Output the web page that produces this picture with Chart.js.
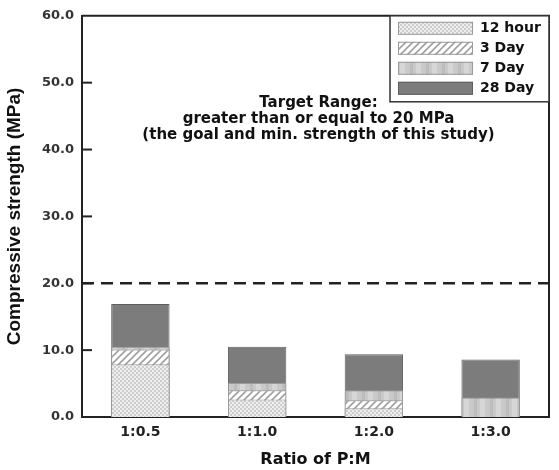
<!DOCTYPE html>
<html>
<head>
<meta charset="utf-8">
<script src="https://cdn.jsdelivr.net/npm/chart.js@4.4.0/dist/chart.umd.min.js"></script>
<style>
  html, body { margin: 0; padding: 0; background: #fff; }
  #wrap { width: 559px; height: 470px; }
</style>
</head>
<body>
<div id="wrap"><canvas id="graf"></canvas></div>
<script>
// categorias e resistencias (MPa)
const ratios = ['1:0.5', '1:1.0', '1:2.0', '1:3.0'];
const ageLabels = ['12 hour', '3 Day', '7 Day', '28 Day'];
const hour12 = [7.9, 2.6, 1.3, 0];
const day3 = [10.1, 4.0, 2.5, 0];
const day7 = [10.5, 5.1, 4.0, 2.9];
const day28 = [16.9, 10.5, 9.4, 8.6];
const yTicks = [0, 10, 20, 30, 40, 50, 60];
const targetValue = 20;
const targetText = ['Target Range:', 'greater than or equal to 20 MPa', '(the goal and min. strength of this study)'];

const canvas = document.getElementById('graf');
const ctx = canvas.getContext('2d');

// texturas das barras
function makePattern(w, h, draw) {
  const c = document.createElement('canvas');
  c.width = w; c.height = h;
  draw(c.getContext('2d'), w, h);
  return ctx.createPattern(c, 'repeat');
}

const patHour = makePattern(4, 4, (g) => {
  g.fillStyle = '#efefef'; g.fillRect(0, 0, 4, 4);
  g.fillStyle = '#cdcdcd'; g.fillRect(0, 0, 2, 2); g.fillRect(2, 2, 2, 2);
});
const patDay3 = makePattern(7, 7, (g) => {
  g.fillStyle = '#ffffff'; g.fillRect(0, 0, 7, 7);
  g.strokeStyle = '#a0a0a0'; g.lineWidth = 1.6;
  g.beginPath();
  g.moveTo(-3.5, 3.5); g.lineTo(3.5, -3.5);
  g.moveTo(0, 7); g.lineTo(7, 0);
  g.moveTo(3.5, 10.5); g.lineTo(10.5, 3.5);
  g.stroke();
});
const patDay7 = makePattern(16, 4, (g) => {
  g.fillStyle = '#c9c9c9'; g.fillRect(0, 0, 16, 4);
  g.fillStyle = '#d6d6d6'; g.fillRect(0, 0, 5, 4);
  g.fillStyle = '#bdbdbd'; g.fillRect(10, 0, 3, 4);
});
const colDay28 = '#7c7c7c';

const fills = [patHour, patDay3, patDay7, colDay28];
const borders = ['#9a9a9a', '#9a9a9a', '#9a9a9a', '#5e5e5e'];
const series = [hour12, day3, day7, day28];

// linha tracejada da meta, texto e moldura
const extras = {
  id: 'extras',
  beforeDatasetsDraw(chart) {
    const { ctx, chartArea: a, scales: { y } } = chart;
    const py = y.getPixelForValue(targetValue);
    ctx.save();
    ctx.strokeStyle = '#222';
    ctx.lineWidth = 2.5;
    ctx.setLineDash([12, 7]);
    ctx.beginPath();
    ctx.moveTo(a.left, py);
    ctx.lineTo(a.right, py);
    ctx.stroke();
    ctx.restore();
  },
  afterDraw(chart) {
    const { ctx, chartArea: a, scales: { x, y } } = chart;
    ctx.save();
    // moldura
    ctx.strokeStyle = '#222';
    ctx.lineWidth = 2;
    ctx.beginPath();
    ctx.moveTo(a.left, a.top);
    ctx.lineTo(a.right, a.top);
    ctx.lineTo(a.right, a.bottom);
    ctx.stroke();
    // ticks para dentro
    yTicks.forEach(v => {
      if (v === 0 || v === 60) return;
      const py = y.getPixelForValue(v);
      ctx.beginPath();
      ctx.moveTo(a.left, py);
      ctx.lineTo(a.left + 10, py);
      ctx.stroke();
    });
    // texto da meta
    ctx.fillStyle = '#111';
    ctx.font = 'bold 15px "DejaVu Sans"';
    ctx.textAlign = 'center';
    ctx.textBaseline = 'middle';
    const cx = x.getPixelForValue(1.5) + 3;
    const ty = y.getPixelForValue(46.9);
    targetText.forEach((t, i) => ctx.fillText(t, cx, ty + i * 16));
    // legenda
    const lw = 159, lh = 86;
    const lx = a.right - lw, ly = a.top;
    ctx.fillStyle = '#fff';
    ctx.fillRect(lx, ly, lw, lh);
    ctx.strokeStyle = '#333';
    ctx.lineWidth = 1.5;
    ctx.strokeRect(lx, ly, lw, lh);
    ctx.font = 'bold 14px "DejaVu Sans"';
    ctx.textAlign = 'left';
    ageLabels.forEach((lab, i) => {
      const ry = ly + 6 + i * 20;
      ctx.fillStyle = fills[i];
      ctx.fillRect(lx + 8, ry, 75, 13);
      ctx.strokeStyle = borders[i];
      ctx.lineWidth = 1;
      ctx.strokeRect(lx + 8.5, ry + 0.5, 74, 12);
      ctx.fillStyle = '#111';
      ctx.fillText(lab, lx + 90, ry + 7);
    });
    ctx.restore();
  }
};

new Chart(canvas, {
  type: 'bar',
  data: {
    labels: ratios,
    datasets: series.map((d, i) => ({
      label: ageLabels[i],
      data: d,
      backgroundColor: fills[i],
      borderColor: borders[i],
      borderWidth: 1,
      grouped: false,
      barPercentage: 0.5,
      categoryPercentage: 1.0
    }))
  },
  options: {
    responsive: true,
    maintainAspectRatio: false,
    animation: false,
    layout: { padding: { top: 12, right: 10, left: 0, bottom: 0 } },
    plugins: { legend: { display: false }, tooltip: { enabled: false } },
    scales: {
      x: {
        grid: { display: false, drawTicks: false },
        border: { display: true, color: '#222', width: 2 },
        ticks: { color: '#222', font: { family: 'DejaVu Sans', weight: 'bold', size: 14 }, padding: 7 },
        title: { display: true, text: 'Ratio of P:M', color: '#111', font: { family: 'DejaVu Sans', weight: 'bold', size: 16 }, padding: { top: 0, bottom: 1 } },
        afterFit: s => { s.height = 53; }
      },
      y: {
        min: 0,
        max: 60,
        afterBuildTicks: s => { s.ticks = yTicks.map(v => ({ value: v })); },
        grid: { display: false, drawTicks: false },
        border: { display: true, color: '#222', width: 2 },
        ticks: { color: '#333', font: { family: 'DejaVu Sans', weight: 'bold', size: 13 }, padding: 8, callback: v => Number(v).toFixed(1) },
        title: { display: true, text: 'Compressive strength (MPa)', color: '#111', font: { family: 'Liberation Sans', weight: 'bold', size: 19 }, padding: { top: 3, bottom: 0 } },
        afterFit: s => { s.width = 82; }
      }
    }
  },
  plugins: [extras]
});
</script>
</body>
</html>
